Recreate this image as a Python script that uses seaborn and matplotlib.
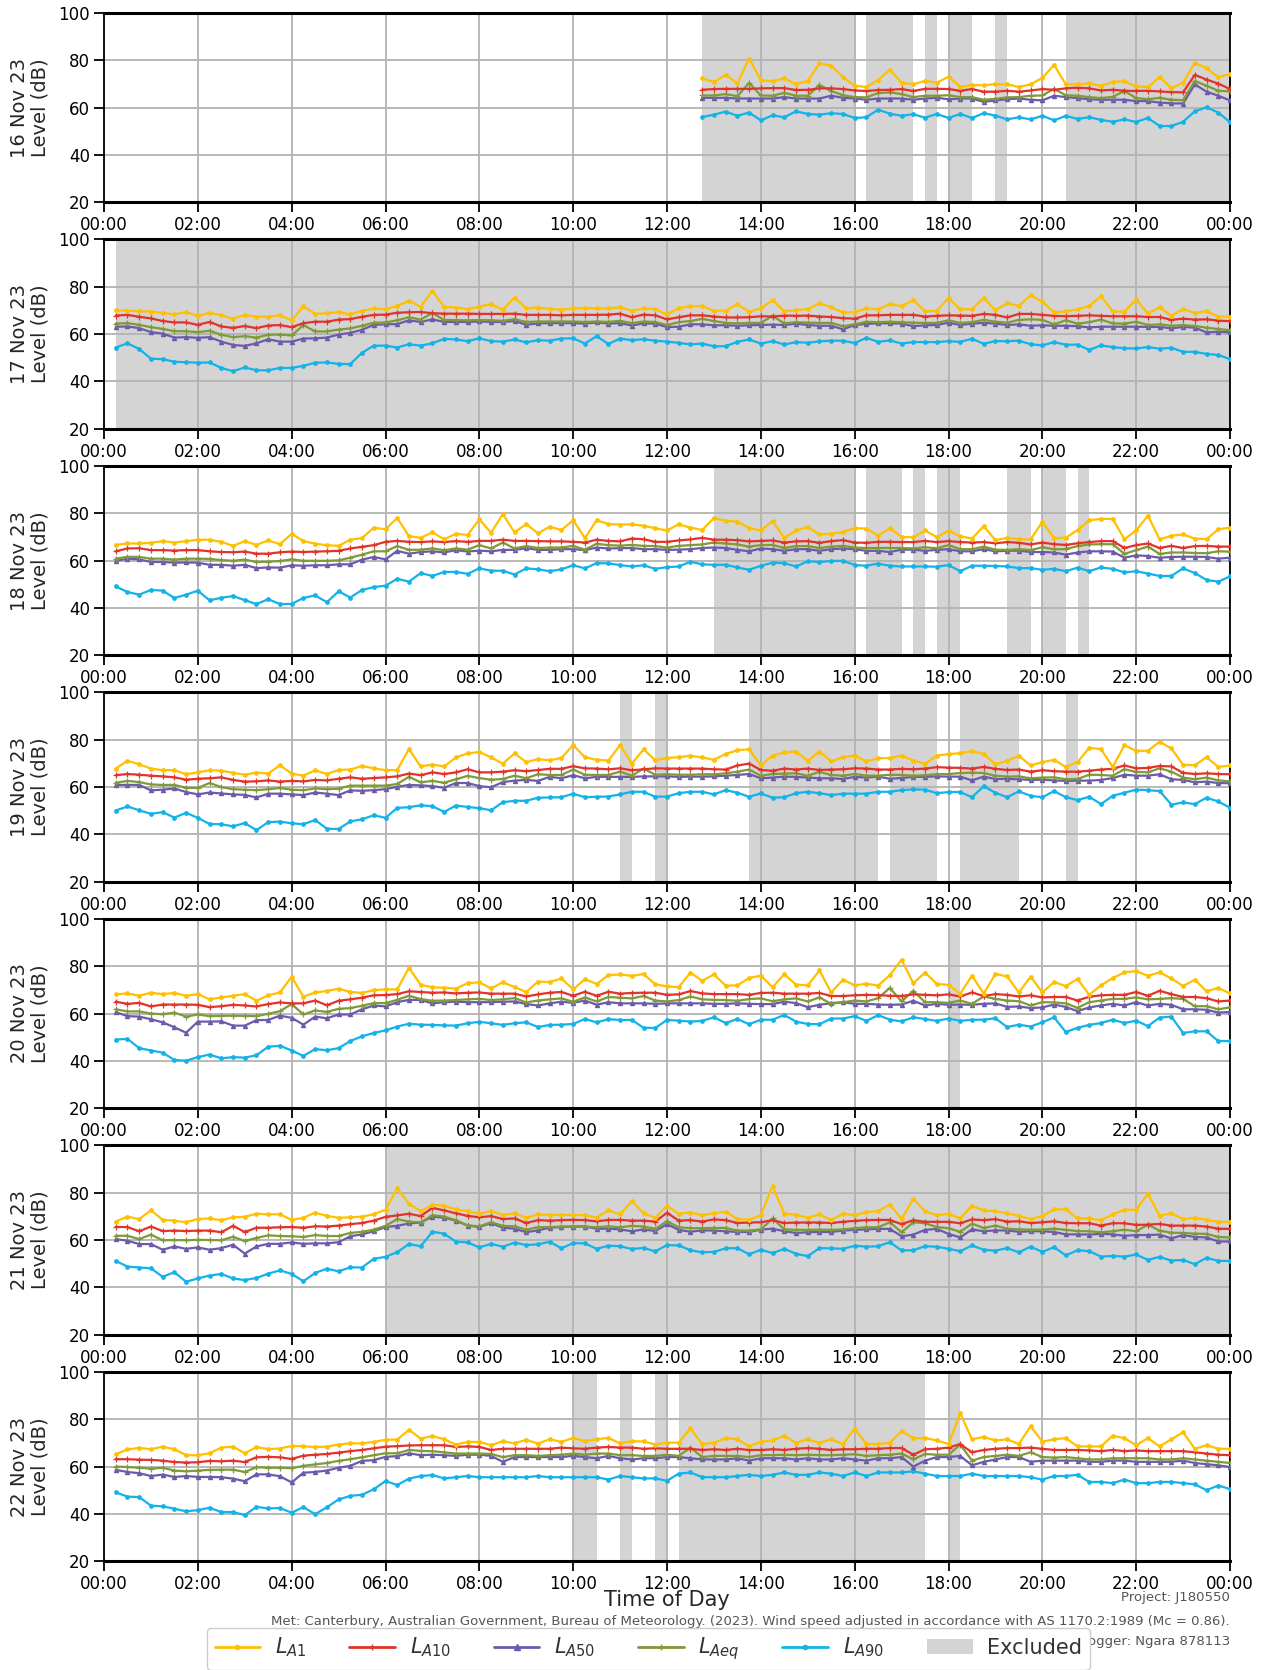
import numpy as np
import pandas as pd
import matplotlib
matplotlib.use("Agg")
import matplotlib.pyplot as plt
from matplotlib.lines import Line2D
from matplotlib.patches import Patch
import seaborn as sns

# ---------------- data ----------------
DAYS = ["16 Nov 23", "17 Nov 23", "18 Nov 23", "19 Nov 23", "20 Nov 23", "21 Nov 23", "22 Nov 23"]
METRICS = ["LA1", "LA10", "LA50", "LAeq", "LA90"]
LEGEND_LABELS = [r"$L_{A1}$", r"$L_{A10}$", r"$L_{A50}$", r"$L_{Aeq}$", r"$L_{A90}$"]
EXCLUDED_LABEL = "Excluded"
X_TICKS = [0, 2, 4, 6, 8, 10, 12, 14, 16, 18, 20, 22, 24]
X_TICK_LABELS = ["00:00", "02:00", "04:00", "06:00", "08:00", "10:00", "12:00",
                 "14:00", "16:00", "18:00", "20:00", "22:00", "00:00"]
Y_TICKS = [20, 40, 60, 80, 100]
X_LABEL = "Time of Day"
Y_LABEL = "Level (dB)"
FOOT_PROJECT = "Project: J180550"
FOOT_MET = ("Met: Canterbury, Australian Government, Bureau of Meteorology. (2023). "
            "Wind speed adjusted in accordance with AS 1170.2:1989 (Mc = 0.86).")
FOOT_LOGGER = "Logger: Ngara 878113"

# 15-minute values, last value at 24:00
la1_16 = [72.3,70.8,73.8,70.2,80.7,71.6,71.1,72.3,69.8,71.3, 78.6,77.7,72.8,69.2,68.7,71.6,76.0,70.5,69.8,71.3,
          70.5,73.0,68.8,69.5,69.4,69.9,69.8,68.7,69.8,72.5, 78.0,69.8,69.8,70.2,69.1,70.8,71.1,68.9,68.7,72.9,
          68.2,70.5,78.9,76.5,72.8,74.2]
la10_16 = [67.5,67.8,67.9,67.9,67.9,68.1,68.2,68.2,67.4,67.5, 68.1,68.1,67.8,67.2,67.0,67.4,67.5,67.8,67.0,67.9,
           67.9,67.8,67.1,67.8,66.7,66.7,67.1,66.7,67.2,67.8, 67.5,68.1,68.4,68.1,67.2,67.5,67.1,67.0,67.1,66.8,
           66.5,66.4,73.8,71.8,70.1,67.8]
la50_16 = [64.1,64.1,64.1,63.8,63.8,63.8,63.8,64.4,63.8,63.8, 63.8,65.0,64.1,63.8,63.3,63.8,63.8,63.8,63.3,63.8,
           64.1,63.5,63.8,63.8,62.4,63.0,63.5,63.8,63.3,63.0, 65.0,64.4,64.0,63.5,63.3,63.3,63.3,62.7,62.7,62.1,
           61.8,61.7,69.8,66.7,65.0,63.0]
laeq_16 = [65.1,65.1,65.7,64.8,70.4,65.1,65.0,66.2,65.0,65.0, 69.5,67.0,65.2,64.4,64.3,66.1,66.4,65.7,64.4,65.0,
           65.0,65.2,64.4,64.4,63.3,63.7,64.3,64.4,65.0,65.1, 67.9,65.2,65.0,64.4,64.0,64.5,67.0,64.0,63.5,64.1,
           63.3,63.1,71.2,69.2,67.1,66.8]
la90_16 = [56.0,57.0,58.3,56.5,57.9,54.6,56.7,55.9,58.4,57.3, 57.0,57.6,57.3,55.6,55.9,59.1,57.4,56.5,57.2,55.7,
           57.3,55.6,57.3,55.6,57.6,56.6,55.0,55.9,55.0,56.5, 54.6,56.5,55.2,55.9,54.8,54.0,55.0,53.9,55.6,52.2,
           52.2,54.0,58.4,60.1,57.9,53.8]

la1_17 = [70.0,69.9,69.6,69.5,68.9,68.3,69.3,67.6,69.0,67.9, 66.5,68.1,67.3,67.3,67.9,65.8,71.7,68.5,68.8,69.3,
          68.3,69.8,70.8,70.5,71.9,74.0,71.6,78.2,71.5,71.2, 70.5,71.6,72.6,70.3,75.4,70.9,71.2,70.6,70.3,70.8,
          71.0,70.8,70.8,71.3,69.8,70.8,70.5,68.3,
          70.9,71.8,71.8,69.8,69.9,72.6,69.4,70.8,74.3,69.6, 70.1,70.5,73.0,71.3,69.1,69.2,70.8,70.5,72.6,71.8,
          74.3,69.6,69.8,75.2,70.4,70.5,75.2,70.1,73.0,71.9, 76.3,73.8,69.1,69.6,70.4,71.9,76.0,69.6,69.4,74.6,
          68.7,71.3,67.7,70.6,68.9,69.6,67.4,67.4]
la10_17 = [67.8,68.1,67.3,66.6,65.5,64.9,64.9,63.9,65.1,63.2, 62.6,63.4,62.5,63.6,63.8,62.9,64.6,65.2,65.2,66.1,
           66.3,67.3,68.1,68.2,69.0,69.2,69.3,68.8,68.6,68.6, 68.6,68.5,68.5,68.5,68.6,68.1,68.1,68.1,67.9,68.1,
           68.1,68.1,68.2,68.6,67.1,68.2,67.9,66.2,
           67.1,67.9,67.9,67.4,67.0,67.0,67.1,67.5,67.4,67.8, 67.7,67.8,67.4,67.2,66.7,66.5,67.9,67.9,68.1,68.1,
           68.1,67.4,67.7,67.9,67.8,67.7,68.5,68.1,67.0,68.5, 68.5,68.1,67.7,67.5,67.7,67.9,67.7,67.5,67.5,67.5,
           67.2,67.2,66.0,66.5,66.1,66.2,65.7,65.4]
la50_17 = [63.1,63.2,62.5,60.8,60.2,58.5,58.7,58.4,58.7,56.8, 55.4,55.0,56.1,57.8,56.8,56.8,58.1,58.2,58.5,59.8,
           60.5,61.8,63.9,64.1,64.2,65.8,65.1,66.2,65.1,65.1, 65.1,65.3,65.1,65.1,65.5,63.9,64.5,64.6,64.6,64.6,
           64.4,64.9,64.4,64.6,63.6,64.5,64.4,62.9,
           63.1,64.1,64.1,63.7,63.7,63.5,63.7,63.8,64.0,63.8, 64.4,63.8,63.5,63.5,62.0,63.8,64.3,64.5,64.5,64.4,
           63.3,63.7,63.8,64.8,63.8,64.4,64.7,64.4,63.8,64.1, 63.5,63.7,63.5,63.5,63.3,62.8,63.1,63.1,63.1,63.1,
           63.0,63.0,62.4,63.0,62.7,60.7,61.0,60.7]
laeq_17 = [64.4,64.6,63.9,62.9,62.2,61.2,61.2,60.8,61.4,59.7, 58.7,59.1,58.5,59.7,59.8,59.4,63.8,61.1,61.1,61.9,
           62.4,63.5,64.8,64.9,65.8,67.1,66.1,68.9,65.9,65.9, 65.8,65.9,65.8,65.6,66.3,65.1,65.3,65.3,65.3,65.3,
           65.1,65.3,65.1,65.6,64.6,65.3,65.1,63.8,
           65.0,65.5,66.4,65.5,64.7,64.5,64.7,64.7,67.7,64.5, 65.0,64.8,64.7,64.7,63.3,64.1,65.2,65.0,65.2,65.0,
           64.8,64.7,64.7,65.8,64.7,65.0,66.0,65.2,64.8,66.0, 66.2,66.0,64.1,65.8,64.4,65.0,66.1,64.5,64.4,65.2,
           63.8,64.1,63.5,63.8,63.4,62.7,62.1,61.6]
la90_17 = [54.3,56.1,53.7,49.6,49.4,48.3,48.1,47.9,48.0,45.7, 44.3,45.9,44.7,44.7,45.7,45.7,46.6,47.9,48.0,47.4,
           47.3,52.1,55.1,55.1,54.3,55.7,55.1,56.1,58.0,57.7, 57.0,58.2,57.0,56.8,57.7,56.5,57.4,57.2,58.1,58.2,
           56.0,59.1,55.8,58.1,57.4,57.8,57.2,56.8,
           56.3,55.6,56.0,54.8,54.9,56.7,57.7,56.0,57.0,55.6, 56.6,56.3,56.9,57.2,57.2,56.2,58.4,56.7,57.3,56.0,
           56.6,56.6,56.6,57.0,56.7,58.0,55.9,57.0,57.0,57.2, 55.7,55.2,56.6,55.5,55.5,53.3,55.2,54.5,54.0,53.9,
           54.5,53.8,54.2,52.5,52.5,51.6,51.2,49.4]

la1_18 = [66.6,67.2,67.2,67.5,68.2,67.6,68.2,68.8,68.8,67.9, 66.2,68.2,66.6,68.5,66.9,71.3,68.2,67.1,66.5,66.2,
          68.8,69.5,73.9,73.2,78.0,70.3,69.6,71.9,69.0,71.3, 70.8,77.4,71.7,79.6,71.9,75.4,71.5,74.3,72.9,77.0,
          69.5,77.0,75.4,75.2,75.3,74.7,73.6,72.7,
          75.3,73.9,72.9,77.9,76.9,76.4,73.7,72.7,76.6,69.6, 72.7,74.2,71.0,71.3,72.0,73.7,73.5,70.5,73.7,70.0,
          69.8,72.7,69.9,72.6,70.2,69.3,74.5,68.6,69.6,69.0, 68.9,76.3,69.5,69.6,72.9,77.0,77.6,77.6,69.0,72.7,
          79.0,68.9,70.5,71.0,69.3,69.0,73.2,73.9]
la10_18 = [63.9,65.1,65.2,64.4,64.4,64.2,64.4,64.4,63.9,63.6, 63.5,63.8,62.9,62.9,63.5,63.8,63.6,63.8,63.9,64.1,
           65.1,65.8,66.5,67.9,68.3,67.9,67.8,68.1,67.8,68.2, 67.9,68.3,68.3,68.8,68.3,68.3,68.2,68.1,68.1,67.9,
           67.6,68.8,68.3,68.1,69.3,69.0,67.9,67.9,
           68.5,68.9,69.6,68.8,68.8,68.6,68.1,68.3,68.5,67.6, 68.1,68.2,67.5,68.2,68.6,67.6,67.5,67.9,67.9,67.8,
           67.8,68.3,67.8,68.2,67.8,67.6,67.8,67.3,67.8,67.5, 66.8,67.6,66.9,66.6,67.3,67.8,68.2,68.2,65.3,66.5,
           67.2,65.3,66.2,65.3,66.1,66.2,65.9,65.9]
la50_18 = [59.8,60.8,60.5,59.4,59.4,59.1,59.2,59.1,58.2,58.2, 57.8,58.2,56.8,57.1,57.0,58.0,57.8,58.0,58.0,58.4,
           58.4,60.4,61.5,60.5,64.1,62.9,63.6,63.9,63.4,64.4, 63.8,64.2,63.9,64.5,64.5,65.2,64.5,64.5,64.8,64.8,
           64.4,65.5,65.1,65.2,65.3,64.8,64.8,64.5,
           64.6,64.8,65.3,65.5,65.3,64.5,63.9,65.1,64.8,64.1, 64.8,64.8,64.1,64.8,65.1,64.8,64.1,64.1,63.6,64.6,
           64.6,64.1,64.5,64.8,63.9,63.9,64.8,63.9,64.1,64.2, 63.6,63.6,63.4,62.5,63.4,63.9,63.9,63.8,61.2,62.2,
           61.9,61.2,61.5,61.6,61.6,61.5,60.8,61.2]
laeq_18 = [60.8,61.6,61.5,60.8,60.8,60.4,60.8,60.8,60.7,60.2, 59.9,60.4,59.4,59.5,59.8,60.5,59.9,59.9,59.9,60.1,
           61.2,62.5,63.9,63.9,66.1,64.5,64.6,65.1,64.4,65.1, 64.6,66.5,65.1,67.6,65.1,66.1,65.3,65.5,65.5,66.2,
           64.6,67.1,66.5,66.3,66.6,66.2,66.1,65.5,
           66.2,66.5,66.8,67.6,67.2,66.8,65.9,66.5,66.6,65.3, 66.1,66.1,65.3,65.9,66.2,65.5,65.3,65.3,65.3,65.3,
           65.1,65.6,65.2,66.5,64.8,64.8,65.9,64.6,64.5,64.8, 64.4,65.6,64.8,64.8,66.1,66.8,66.9,66.9,62.8,64.4,
           65.9,62.8,63.4,63.4,63.2,63.1,63.9,63.8]
la90_18 = [49.1,46.7,45.6,47.6,47.3,44.2,45.6,47.3,43.2,44.3, 45.0,43.3,41.6,43.7,41.6,41.7,44.2,45.3,42.4,47.0,
           44.4,47.6,48.8,49.4,52.3,51.1,54.7,53.5,55.2,55.2, 54.4,56.7,55.7,55.7,54.1,56.7,56.3,55.5,56.3,58.0,
           56.7,58.9,58.8,58.1,57.5,58.0,56.5,57.2,
           57.5,59.5,58.4,58.2,58.2,57.1,56.1,57.8,59.1,58.9, 57.5,59.7,59.4,59.8,59.9,58.1,57.8,58.7,57.8,57.5,
           57.5,57.5,57.4,58.1,55.5,57.8,57.8,57.7,57.5,56.8, 56.8,56.1,56.5,55.5,57.0,55.5,57.1,56.5,55.0,55.5,
           54.5,53.5,53.5,56.7,54.7,51.8,51.1,53.3]

la1_19 = [67.8,71.1,69.6,67.8,67.1,67.1,65.4,66.2,67.1,66.9, 66.0,65.2,66.1,65.7,69.2,65.7,64.8,67.1,65.5,67.2,
          67.4,68.9,67.9,67.1,67.2,76.0,68.7,69.5,68.7,72.5, 74.2,74.8,72.5,69.9,74.2,70.5,71.8,71.3,72.3,77.7,
          72.6,71.5,71.2,77.7,69.9,75.9,71.3,72.3,
          72.6,73.2,72.5,71.5,74.0,75.5,76.0,69.1,73.3,74.6, 75.0,71.1,75.0,70.8,72.6,73.3,70.8,72.2,72.2,73.3,
          71.2,69.8,73.3,73.9,74.3,75.2,73.9,69.6,71.1,73.2, 69.1,70.5,71.5,68.5,70.5,76.6,76.0,68.5,77.6,75.3,
          75.3,79.1,76.3,69.4,69.2,72.6,68.5,69.1]
la10_19 = [65.0,65.5,65.2,64.8,64.5,64.1,63.1,63.5,63.7,64.1, 63.0,62.3,62.4,62.8,62.3,62.6,62.4,63.0,62.8,63.5,
           64.1,63.5,63.8,64.1,64.5,65.7,65.0,66.2,65.5,66.2, 67.5,66.2,66.2,66.5,67.1,66.7,67.2,67.7,67.7,68.8,
           67.9,67.8,67.5,67.9,67.1,67.5,67.9,67.8,
           67.8,67.8,67.8,67.5,67.4,69.1,69.9,67.2,66.9,67.8, 67.4,67.8,67.2,67.4,67.5,67.9,67.8,67.4,67.4,67.7,
           67.5,67.8,68.4,68.2,68.1,67.8,68.5,67.7,67.2,67.4, 66.5,67.1,66.7,66.5,66.5,66.9,67.4,67.7,69.1,67.9,
           68.1,68.9,68.7,66.0,65.5,65.8,65.5,65.4]
la50_19 = [60.9,60.9,60.9,58.6,58.9,59.4,57.9,56.9,57.7,57.3, 56.9,56.7,55.6,57.2,57.2,56.9,56.6,57.7,57.2,56.6,
           58.6,58.4,58.7,59.1,60.1,60.9,60.7,60.4,59.7,61.7, 61.7,60.4,59.9,62.1,62.7,63.0,62.6,64.3,63.7,65.0,
           63.7,64.3,64.3,64.3,64.3,64.5,64.5,64.5,
           64.3,64.4,64.4,64.5,64.8,65.1,65.5,63.7,64.0,64.4, 64.3,64.0,63.7,63.7,63.4,64.3,64.0,64.4,63.5,63.8,
           64.3,64.3,64.5,64.4,64.4,62.8,64.4,63.4,63.4,63.3, 63.0,63.1,62.8,62.6,62.7,62.7,63.0,63.8,65.2,64.8,
           64.8,65.4,63.3,63.0,62.0,62.3,61.7,61.6]
laeq_19 = [61.8,62.6,62.1,61.1,60.9,60.9,59.7,59.6,61.7,60.0, 59.1,58.9,58.7,59.1,59.6,58.9,58.7,59.4,59.1,59.3,
           60.6,60.6,60.6,60.6,61.3,64.3,62.0,62.6,61.8,63.3, 64.7,63.8,63.1,63.4,64.8,63.7,65.4,65.1,65.1,67.4,
           65.2,65.1,65.1,66.5,64.8,67.8,65.2,65.4,
           65.2,65.2,65.4,65.4,65.8,66.5,67.4,64.8,65.5,65.7, 65.8,64.8,66.4,65.1,64.8,65.5,64.8,64.8,65.2,65.1,
           64.8,65.0,65.4,65.5,65.9,66.1,65.9,64.8,64.4,64.5, 63.7,64.0,64.1,63.3,63.4,65.2,65.1,64.8,67.5,66.4,
           66.2,67.9,66.5,64.0,63.3,64.0,62.8,62.4]
la90_19 = [50.1,51.8,50.2,48.7,49.4,47.1,49.1,47.0,44.4,44.3, 43.4,44.8,41.8,45.2,45.4,44.7,44.3,46.1,42.4,42.3,
           45.5,46.4,48.1,47.0,51.2,51.5,52.3,51.9,49.5,52.2, 51.6,51.1,50.2,53.6,54.2,54.2,55.5,55.6,55.7,57.2,
           55.7,55.9,56.0,56.9,58.0,58.0,55.9,56.0,
           57.4,58.0,58.0,56.9,58.7,57.6,55.9,57.3,55.5,55.7, 57.4,58.0,57.4,56.6,57.2,57.2,57.2,58.0,58.0,58.7,
           59.0,58.9,57.4,57.9,57.9,55.7,60.3,57.6,55.7,58.2, 56.3,55.7,58.3,55.7,54.5,55.9,52.8,56.3,57.6,58.9,
           58.7,58.3,52.6,53.5,52.8,55.5,53.9,51.3]

la1_20 = [68.1,68.5,67.5,68.8,68.2,68.7,67.5,68.2,66.0,66.8, 67.5,68.2,65.4,67.7,68.9,75.5,67.1,68.9,69.5,70.5,
          69.1,68.7,69.9,70.2,70.2,79.3,72.1,71.1,70.9,70.5, 72.8,73.2,70.6,73.2,71.2,69.1,73.5,73.3,74.8,70.2,
          74.5,72.5,76.2,76.5,75.9,76.7,72.3,71.5,
          71.1,77.3,73.8,76.5,71.8,71.9,75.0,76.0,71.1,76.6, 72.2,71.9,78.2,68.9,74.3,71.9,72.6,71.8,76.2,82.7,
          72.8,77.3,72.5,72.1,68.4,76.0,68.4,76.7,75.7,68.9, 75.6,68.9,73.3,71.6,74.6,67.9,71.9,75.0,77.4,77.9,
          75.9,77.4,74.8,71.6,74.3,69.4,70.8,68.5]
la10_20 = [65.0,64.1,64.5,63.0,63.8,63.8,63.8,63.7,62.7,63.1, 63.7,63.4,63.0,64.0,64.7,64.3,64.3,65.5,63.5,65.4,
           66.0,66.7,67.7,67.8,68.2,69.4,69.1,68.8,68.9,68.5, 68.8,68.9,68.4,68.4,68.4,67.2,68.1,68.8,69.1,67.5,
           69.2,67.5,69.2,68.4,68.7,68.8,68.8,67.9,
           68.1,69.5,68.5,68.2,68.2,68.2,67.9,68.7,68.8,68.4, 68.4,68.4,68.7,67.4,67.4,67.7,67.9,67.8,67.5,67.4,
           68.1,67.9,67.7,68.1,67.2,68.9,67.4,68.2,67.9,67.2, 67.7,66.8,67.0,67.0,65.5,67.1,67.7,67.9,67.9,69.1,
           67.5,69.6,68.2,67.0,67.0,66.5,65.1,65.5]
la50_20 = [60.6,58.9,58.7,57.6,56.3,54.2,51.9,56.6,56.6,56.7, 54.9,54.9,57.2,57.3,59.1,58.2,55.3,58.7,58.0,59.6,
           59.6,61.8,63.4,63.0,64.8,65.8,65.7,64.3,64.8,65.0, 64.8,64.8,64.8,65.0,65.1,64.0,63.4,64.3,65.0,64.5,
           65.5,63.7,64.8,64.3,64.3,64.3,64.1,64.3,
           64.3,64.3,64.3,64.1,64.1,64.3,64.1,64.0,64.0,65.0, 64.4,62.7,63.7,64.4,64.8,64.1,64.1,63.8,63.7,63.8,
           65.4,63.4,64.1,63.7,63.8,63.7,64.1,64.3,62.8,63.0, 62.3,62.6,63.8,62.8,61.0,62.6,63.4,64.1,63.4,64.8,
           63.4,64.1,63.7,61.8,61.8,61.6,60.4,60.7]
laeq_20 = [61.8,60.9,60.9,60.0,59.7,60.4,58.7,59.6,58.9,59.0, 59.1,59.0,58.9,59.9,61.0,64.0,59.6,61.3,60.7,62.0,
           62.3,63.3,64.4,64.4,65.8,67.5,66.1,65.4,65.5,65.7, 66.0,66.2,65.7,66.0,66.5,64.7,65.5,66.0,66.4,65.0,
           66.8,65.1,67.0,66.7,66.4,67.4,65.5,65.1,
           65.7,67.2,66.0,65.8,65.7,65.4,66.1,66.4,65.2,66.0, 66.4,65.1,66.8,64.1,64.8,65.5,65.1,66.5,70.8,65.1,
           69.6,64.8,64.8,64.5,65.5,64.1,67.2,66.2,65.5,65.2, 63.4,64.8,64.7,64.3,62.4,64.8,65.5,66.2,66.2,66.8,
           66.0,66.2,66.5,66.2,63.1,63.1,61.8,62.6]
la90_20 = [49.0,49.3,45.4,44.4,43.5,40.4,40.1,41.6,42.7,41.1, 41.6,41.4,42.4,46.0,46.4,44.4,42.1,45.0,44.5,45.4,
           48.4,50.4,51.8,52.9,54.5,55.7,55.3,55.2,55.0,54.9, 55.9,56.5,55.9,55.2,55.9,56.3,54.3,55.2,55.3,55.6,
           57.7,56.3,57.6,57.3,57.3,54.0,53.9,57.3,
           57.0,56.6,56.9,58.4,56.0,57.7,55.5,57.4,57.4,59.4, 56.6,55.6,55.5,57.9,57.9,58.9,56.9,59.3,57.4,56.7,
           58.4,57.7,56.9,57.9,56.9,57.4,57.4,58.0,54.3,55.3, 54.5,56.3,58.4,52.2,54.0,55.2,56.0,57.4,56.0,57.0,
           54.7,58.3,58.7,51.8,52.5,52.5,48.4,48.4]

la1_21 = [67.8,69.9,68.8,72.6,68.5,68.2,67.5,68.9,69.1,68.4, 69.6,69.8,71.1,70.8,70.9,68.5,69.4,71.6,70.2,69.4,
          69.6,69.9,70.9,72.8,81.8,75.3,72.2,74.9,74.5,72.9, 72.2,71.1,72.3,70.5,71.3,69.4,70.8,70.6,70.6,70.6,
          70.5,69.5,72.6,70.8,76.5,71.3,69.4,74.5,
          71.1,71.6,70.5,71.3,71.9,68.9,68.5,70.5,82.8,71.2, 70.6,69.5,70.8,68.5,71.1,70.5,71.8,72.2,75.0,68.9,
          77.4,72.1,70.5,71.1,69.1,74.5,72.5,72.2,71.3,70.2, 68.8,70.2,72.9,73.0,69.1,69.1,68.4,70.8,72.8,72.8,
          79.6,70.2,71.3,68.9,69.4,68.5,67.7,67.7]
la10_21 = [65.5,65.5,63.7,65.7,63.8,64.0,63.8,64.0,64.0,63.3, 66.0,63.4,65.2,65.2,65.4,65.5,65.2,65.8,65.7,66.1,
           66.7,67.2,68.2,69.8,70.4,71.1,70.1,73.6,72.5,71.3, 70.2,69.6,70.1,68.9,69.1,67.2,68.4,68.2,68.4,68.5,
           68.4,67.9,68.5,68.5,68.2,68.2,67.8,71.5,
           68.2,68.4,67.8,68.7,68.4,67.2,67.4,67.5,68.4,67.2, 67.4,67.4,67.4,67.2,67.7,68.1,68.4,68.5,68.5,66.7,
           68.4,67.7,67.7,67.7,67.1,68.7,68.4,68.8,67.8,67.9, 67.2,67.5,67.9,67.2,67.1,67.1,66.1,67.1,67.1,66.4,
           66.5,66.8,66.1,66.1,66.1,65.7,64.8,64.7]
la50_21 = [60.4,59.7,58.3,58.3,55.9,57.3,56.3,56.9,55.9,56.6, 58.0,54.3,57.3,58.4,58.4,59.0,58.4,58.6,58.6,59.1,
           61.6,62.4,63.7,65.5,66.0,67.0,67.4,69.9,69.4,68.2, 66.1,65.5,67.2,65.2,64.8,63.3,64.1,65.2,65.5,65.7,
           65.7,64.8,64.8,64.5,63.7,64.5,63.8,66.7,
           64.3,63.5,64.1,64.0,63.7,63.4,63.4,64.4,64.8,63.7, 63.0,63.3,63.4,63.4,64.0,64.3,64.5,64.7,64.7,61.6,
           62.3,64.3,64.7,62.6,61.1,64.5,63.7,64.1,64.0,63.5, 63.7,63.7,63.4,62.4,62.4,62.3,62.6,62.4,61.8,62.1,
           62.1,62.3,60.7,62.1,61.3,61.1,59.4,59.4]
laeq_21 = [61.8,61.8,60.4,62.3,59.9,60.0,59.9,60.1,60.0,59.9, 61.4,59.6,60.9,62.0,61.7,61.6,61.3,62.1,61.7,61.7,
           63.0,63.5,64.4,66.0,68.8,67.8,67.4,70.5,69.9,68.4, 66.2,65.8,67.5,66.0,65.8,64.4,65.4,65.5,65.7,65.7,
           65.7,65.4,65.8,65.4,66.0,65.7,64.8,67.9,
           65.4,65.0,65.0,65.1,65.1,64.0,64.0,64.5,69.1,64.5, 64.3,64.3,64.4,64.3,64.5,65.0,65.4,65.4,67.5,63.3,
           67.5,67.1,65.5,65.0,63.5,66.9,65.1,66.1,64.8,64.5, 64.4,64.4,64.8,64.3,63.8,63.7,63.3,63.7,64.4,63.7,
           66.5,64.0,63.1,63.0,62.7,62.6,61.3,61.1]
la90_21 = [51.2,48.8,48.4,48.1,44.5,46.4,42.4,43.8,45.0,45.7, 43.8,43.1,44.0,45.8,47.2,45.7,42.6,46.1,47.9,46.8,
           48.5,48.4,52.1,52.9,54.9,58.3,57.4,63.5,62.7,59.3, 59.0,56.9,58.4,57.2,58.9,57.9,58.2,59.3,56.5,58.7,
           58.6,56.3,57.6,57.4,56.2,56.7,55.2,57.9,
           57.7,55.7,54.8,55.0,56.5,56.6,54.0,55.9,54.5,56.3, 54.2,53.2,56.6,56.5,56.3,57.6,57.2,57.4,59.1,55.6,
           55.7,57.4,57.2,56.3,55.3,57.7,55.9,55.5,56.6,54.8, 57.2,55.0,57.0,53.5,55.7,55.3,53.0,53.3,53.0,53.9,
           51.6,52.9,51.3,51.6,49.8,52.5,51.2,51.2]

la1_22 = [65.2,67.2,67.9,67.3, 68.4,67.3,64.8,64.8, 65.6,68.0,68.4,65.6, 68.2,67.4,67.6,68.7,
          68.6,68.2,68.4,69.3, 69.8,69.8,70.4,71.3, 71.4,75.5,71.8,72.9, 71.5,69.3,70.4,70.4,
          69.0,70.7,69.8,71.3, 69.7,71.5,70.4,72.1, 70.7,71.5,72.1,69.8, 70.7,70.6,69.3,70.1,
          70.1,76.1,69.5,70.0, 72.0,71.5,68.5,70.5, 71.0,73.0,70.0,71.5, 70.0,71.5,69.5,76.0,
          69.5,69.5,70.0,75.0, 72.0,72.0,71.0,69.5, 82.5,71.5,72.5,71.0, 71.5,69.5,77.0,70.5,
          71.5,72.0,68.5,68.5, 68.5,73.0,72.0,69.0, 72.0,68.5,71.5,74.5, 67.5,69.0,67.5,67.5]
la10_22 = [63.1,63.1,62.9,62.8, 62.5,61.9,61.7,61.8, 62.4,62.2,62.5,61.9, 63.9,64.1,63.9,63.2,
           64.6,65.0,65.3,65.9, 66.5,67.0,67.7,68.4, 68.6,68.9,69.0,69.0, 69.0,68.3,68.5,68.3,
           67.0,67.5,67.5,67.5, 67.5,67.5,68.0,67.7, 67.5,68.0,68.3,68.0, 68.0,67.5,67.7,67.5,
           67.5,67.5,67.0,67.3, 67.0,67.5,67.0,67.0, 67.3,67.0,67.5,67.8, 67.5,67.0,67.3,67.3,
           67.5,67.5,67.8,67.8, 65.0,67.3,67.5,68.0, 69.5,66.0,67.0,67.5, 67.8,67.8,68.0,67.5,
           67.0,67.0,67.0,66.8, 66.5,67.0,66.5,66.8, 66.5,66.5,66.5,66.5, 66.0,65.5,65.0,64.8]
la50_22 = [58.6,57.7,57.2,56.0, 56.6,55.6,56.0,55.6, 55.6,55.5,54.9,53.8, 56.7,56.7,55.9,53.3,
           57.4,57.7,58.3,59.5, 60.3,62.4,62.7,64.1, 64.4,65.6,64.8,65.0, 64.8,64.5,65.0,65.0,
           64.5,62.0,64.0,64.0, 64.0,64.0,64.0,64.5, 64.0,63.5,64.5,63.5, 63.0,63.5,63.5,64.0,
           64.0,63.5,63.0,63.0, 63.0,63.5,62.5,63.5, 63.5,63.5,63.0,63.5, 63.0,63.0,63.5,63.0,
           62.5,63.5,63.5,64.0, 60.0,62.5,64.0,64.0, 64.5,60.5,62.0,63.0, 64.0,64.0,62.0,62.5,
           62.5,62.5,62.5,62.0, 62.0,62.5,62.5,62.0, 62.0,62.0,62.0,62.5, 61.5,61.0,60.5,59.8]
laeq_22 = [60.0,59.8,59.5,59.1, 59.5,58.3,58.0,58.3, 58.6,58.7,58.7,57.7, 59.7,59.5,59.5,59.3,
           60.3,60.9,61.5,62.4, 63.1,63.9,64.8,65.6, 65.6,67.0,66.6,66.5, 66.0,65.5,65.5,65.5,
           65.3,64.0,64.8,64.8, 64.5,64.8,65.0,65.5, 65.0,65.5,65.5,64.8, 64.8,64.5,64.5,65.0,
           64.5,68.0,64.0,64.5, 64.5,64.5,64.0,64.8, 64.8,65.0,64.8,65.0, 64.8,64.8,65.0,65.2,
           64.5,64.8,65.0,65.5, 63.0,65.3,65.0,65.0, 69.3,62.5,64.0,64.5, 65.0,64.5,66.0,64.0,
           63.8,64.0,63.5,63.0, 63.0,63.5,63.5,63.5, 63.5,63.0,63.0,63.5, 63.0,62.5,62.0,61.5]
la90_22 = [49.1,47.3,47.1,43.5, 43.2,42.2,41.1,41.6, 42.6,40.8,40.8,39.5, 43.0,42.3,42.5,40.5,
           42.9,39.9,42.8,46.1, 47.6,48.1,50.4,53.9, 52.2,54.9,56.0,56.4, 55.0,55.5,56.0,55.5,
           55.5,55.5,55.5,55.5, 56.0,55.5,55.5,55.5, 55.5,55.5,54.5,56.0, 55.5,55.0,55.0,54.0,
           57.0,57.5,55.5,55.5, 55.5,56.0,56.5,56.0, 56.5,57.5,56.5,56.5, 57.5,57.0,56.0,57.5,
           56.0,57.5,57.5,57.5, 58.0,57.0,56.0,56.0, 56.0,57.0,56.0,56.0, 56.0,56.0,55.5,54.5,
           56.0,56.0,56.5,53.5, 53.5,53.0,54.5,53.0, 53.0,53.5,53.5,53.0, 52.5,50.0,52.0,50.5]

# excluded periods (hours of day)
excl_16 = [(12.75, 16.0), (16.25, 17.25), (17.5, 17.75), (18.0, 18.5), (19.0, 19.25), (20.5, 24.0)]
excl_17 = [(0.25, 24.0)]
excl_18 = [(13.0, 16.0), (16.25, 17.0), (17.25, 17.5), (17.75, 18.25), (19.25, 19.75), (20.0, 20.5), (20.75, 21.0)]
excl_19 = [(11.0, 11.25), (11.75, 12.0), (13.75, 16.5), (16.75, 17.75), (18.25, 19.5), (20.5, 20.75)]
excl_20 = [(18.0, 18.25)]
excl_21 = [(6.0, 24.0)]
excl_22 = [(10.0, 10.5), (11.0, 11.25), (11.75, 12.0), (12.25, 17.5), (18.0, 18.25)]

DAY_SERIES = [
    (la1_16, la10_16, la50_16, laeq_16, la90_16),
    (la1_17, la10_17, la50_17, laeq_17, la90_17),
    (la1_18, la10_18, la50_18, laeq_18, la90_18),
    (la1_19, la10_19, la50_19, laeq_19, la90_19),
    (la1_20, la10_20, la50_20, laeq_20, la90_20),
    (la1_21, la10_21, la50_21, laeq_21, la90_21),
    (la1_22, la10_22, la50_22, laeq_22, la90_22),
]
DAY_EXCL = [excl_16, excl_17, excl_18, excl_19, excl_20, excl_21, excl_22]

# ---------------- style ----------------
COLORS = {"LA1": "#FFC000", "LA10": "#E2332A", "LA50": "#6C5AAC", "LAeq": "#7E9B38", "LA90": "#13B2E8"}
MARKERS = {"LA1": ".", "LA10": "+", "LA50": "^", "LAeq": "+", "LA90": "."}
MSIZE = {"LA1": 5, "LA10": 4, "LA50": 3, "LAeq": 4, "LA90": 5}
DRAW_ORDER = ["LA90", "LA50", "LAeq", "LA10", "LA1"]
EXCL_COLOR = "#D4D4D4"
GRID_COLOR = "#B3B3B3"

sns.set_style("white")
plt.rcParams["font.family"] = ["DejaVu Sans"]
plt.rcParams["mathtext.default"] = "it"

W, H = 1264, 1670
fig = plt.figure(figsize=(W / 100, H / 100), dpi=100)

left = 104 / W
width = (1230 - 104) / W
ax_h = 189.5
for k, day in enumerate(DAYS):
    top_px = 12.8 + 226.5 * k
    bottom = 1 - (top_px + ax_h) / H
    ax = fig.add_axes([left, bottom, width, ax_h / H])

    frames = []
    for name, vals in zip(METRICS, DAY_SERIES[k]):
        n = len(vals)
        hours = 24.0 - 0.25 * (n - 1) + 0.25 * np.arange(n)
        frames.append(pd.DataFrame({"hour": hours, "level": vals, "metric": name}))
    df = pd.concat(frames, ignore_index=True)

    for a, b in DAY_EXCL[k]:
        ax.axvspan(a, b, color=EXCL_COLOR, lw=0, zorder=0.2)

    for m in DRAW_ORDER:
        sub = df[df["metric"] == m]
        sns.lineplot(data=sub, x="hour", y="level", ax=ax, color=COLORS[m],
                     marker=MARKERS[m], markersize=MSIZE[m], markeredgecolor=COLORS[m],
                     markeredgewidth=0.9, linewidth=1.6, legend=False,
                     estimator=None, sort=False, zorder=3)

    ax.set_xlim(0, 24)
    ax.set_ylim(20, 100)
    ax.set_xticks(X_TICKS)
    ax.set_xticklabels(X_TICK_LABELS)
    ax.set_yticks(Y_TICKS)
    ax.set_axisbelow(True)
    ax.grid(True, color=GRID_COLOR, lw=1.3)
    ax.tick_params(axis="both", which="major", direction="out", length=7, width=1.3,
                   labelsize=12, colors="black", bottom=True, left=True, pad=3)
    for s in ["top", "bottom"]:
        ax.spines[s].set_linewidth(2.2)
        ax.spines[s].set_color("black")
    for s in ["left", "right"]:
        ax.spines[s].set_linewidth(1.3)
        ax.spines[s].set_color("black")
    ax.set_xlabel("")
    ax.set_ylabel(f"{day}\n{Y_LABEL}", fontsize=14, linespacing=1.15)
    ax.yaxis.set_label_coords(-0.048, 0.5)

fig.text((104 + 1230) / 2 / W, 1 - 1600 / H, X_LABEL, ha="center", va="center", fontsize=15)
fig.text(1230 / W, 1 - 1598 / H, FOOT_PROJECT, ha="right", va="center", fontsize=9.5, color="#555555")
fig.text(1230 / W, 1 - 1621 / H, FOOT_MET, ha="right", va="center", fontsize=9.5, color="#555555")
fig.text(1230 / W, 1 - 1641 / H, FOOT_LOGGER, ha="right", va="center", fontsize=9.5, color="#555555")

handles = [Line2D([0], [0], color=COLORS[m], marker=MARKERS[m], markersize=MSIZE[m] + 1,
                  markeredgecolor=COLORS[m], lw=2) for m in METRICS]
handles.append(Patch(facecolor=EXCL_COLOR, edgecolor="none"))
leg = fig.legend(handles, LEGEND_LABELS + [EXCLUDED_LABEL], loc="center",
                 bbox_to_anchor=(0.513, 1 - 1649 / H), ncol=6, fontsize=15, frameon=True,
                 handlelength=2.2, handletextpad=0.7, columnspacing=2.05, borderpad=0.35,
                 fancybox=True, framealpha=1, edgecolor="#cccccc")
for t in leg.get_texts():
    t.set_color("#333333")
leg.set_zorder(10)

fig.savefig("out.png", dpi=100)
